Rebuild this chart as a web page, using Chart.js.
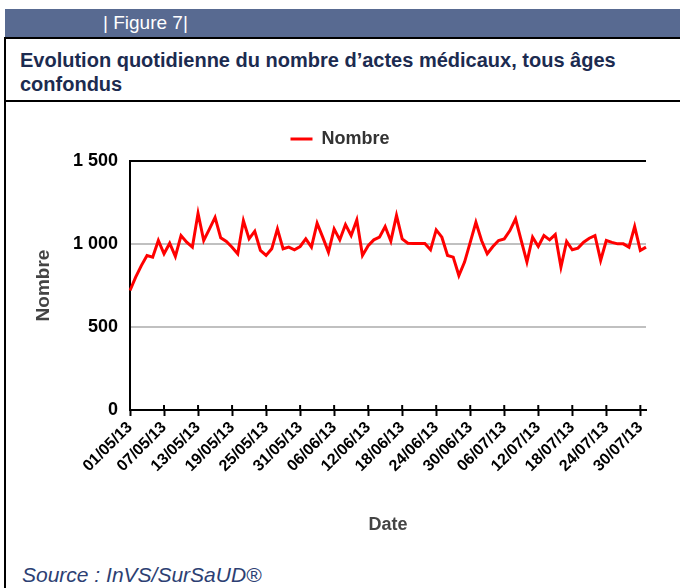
<!DOCTYPE html>
<html>
<head>
<meta charset="utf-8">
<script src="https://cdn.jsdelivr.net/npm/chart.js@4.4.1/dist/chart.umd.min.js"></script>
<style>
    body { margin: 0; width: 680px; height: 588px; background: #fff; position: relative; overflow: hidden; font-family: "Liberation Sans", Arial, sans-serif; }
    .bar { position: absolute; left: 5px; top: 9px; width: 675px; height: 28px; background: #586a91; }
    .bar span { position: absolute; left: 98px; top: 1px; line-height: 26px; color: #fff; font-size: 19px; }
    .box { position: absolute; left: 4px; top: 37px; width: 700px; height: 600px; border-left: 2px solid #000; border-top: 2px solid #000; }
    .title { position: absolute; left: 20px; top: 48px; font-size: 20px; line-height: 24px; font-weight: bold; color: #1c2b50; }
    .sep { position: absolute; left: 4px; top: 100px; width: 680px; height: 2px; background: #000; }
    .source { position: absolute; left: 22px; top: 563px; font-size: 21px; line-height: 24px; font-style: italic; color: #2d3f73; }
    #wrap { position: absolute; left: 0; top: 104px; width: 680px; height: 456px; }
</style>
</head>
<body>
<div class="bar"><span>| Figure 7|</span></div>
<div class="box"></div>
<div class="title">Evolution quotidienne du nombre d’actes médicaux, tous âges<br>confondus</div>
<div class="sep"></div>
<div id="wrap"><canvas id="myChart"></canvas></div>
<div class="source">Source : InVS/SurSaUD®</div>

<script>
// categories: every day from 01/05/13 to 31/07/13
let months = [["05", 31], ["06", 30], ["07", 31]];
let dates = [];
months.forEach(([mm, n]) => {
    for (let d = 1; d <= n; d++) dates.push(String(d).padStart(2, "0") + "/" + mm + "/13");
});

let nombre = [
    720, 800, 870, 931, 921, 1021, 941, 1005, 925, 1051,
    1011, 981, 1185, 1021, 1090, 1160, 1037, 1015, 980, 941,
    1141, 1031, 1077, 961, 931, 971, 1091, 971, 981, 965,
    985, 1031, 981, 1125, 1040, 951, 1091, 1025, 1117, 1051,
    1145, 931, 990, 1025, 1041, 1105, 1017, 1172, 1031, 1005,
    1003, 1003, 1003, 965, 1085, 1041, 931, 921, 810, 891,
    1010, 1131, 1021, 941, 985, 1021, 1031, 1081, 1152, 1020,
    891, 1041, 985, 1051, 1025, 1057, 861, 1015, 965, 975,
    1011, 1035, 1051, 901, 1021, 1010, 1001, 1001, 981, 1105,
    961, 981
];

let yTicks = [0, 500, 1000, 1500];
let labelEvery = 6;

function frNumber(v) {
    if (v < 1000) return String(v);
    return Math.floor(v / 1000) + " " + String(v % 1000).padStart(3, "0");
}

// make the legend block a fixed height
let legendHeight = {
    id: "legendHeight",
    beforeInit(chart) {
        let fit = chart.legend.fit;
        chart.legend.fit = function () {
            fit.call(this);
            this.height = 57;
        };
    }
};

// tick marks crossing the x axis (inner half)
let innerTicks = {
    id: "innerTicks",
    afterDraw(chart) {
        let x = chart.scales.x;
        let ctx = chart.ctx;
        let y0 = chart.chartArea.bottom;
        ctx.save();
        ctx.strokeStyle = "#000";
        ctx.lineWidth = 2;
        x.ticks.forEach((t, i) => {
            let px = x.getPixelForTick(i);
            ctx.beginPath();
            ctx.moveTo(px, y0);
            ctx.lineTo(px, y0 - 5);
            ctx.stroke();
        });
        ctx.restore();
    }
};

let ctx = document.getElementById("myChart").getContext("2d");
let myChart = new Chart(ctx, {
    type: "line",
    data: {
        labels: dates,
        datasets: [{
            label: "Nombre",
            data: nombre,
            borderColor: "#ff0000",
            backgroundColor: "#ff0000",
            borderWidth: 3,
            pointRadius: 0,
            tension: 0
        }]
    },
    options: {
        responsive: true,
        maintainAspectRatio: false,
        animation: false,
        layout: { padding: 0 },
        plugins: {
            legend: {
                position: "top",
                labels: {
                    usePointStyle: true,
                    pointStyle: "line",
                    pointStyleWidth: 22,
                    boxWidth: 22,
                    padding: 26,
                    color: "#333",
                    font: { family: "Liberation Sans", size: 18, weight: "bold" }
                }
            },
            tooltip: { enabled: false }
        },
        scales: {
            x: {
                offset: false,
                afterBuildTicks: (scale) => {
                    scale.ticks = scale.ticks.filter((t) => t.value % labelEvery === 0);
                },
                afterFit: (scale) => {
                    scale.height = 150;
                    scale.paddingRight = 34;
                },
                grid: {
                    drawOnChartArea: false,
                    drawTicks: true,
                    tickLength: 6,
                    tickColor: "#000",
                    tickWidth: 2
                },
                border: { color: "#000", width: 2 },
                ticks: {
                    autoSkip: false,
                    minRotation: 45,
                    maxRotation: 45,
                    padding: 2,
                    color: "#000",
                    font: { family: "Liberation Sans", size: 16, weight: "bold" }
                },
                title: {
                    display: true,
                    text: "Date",
                    color: "#444",
                    padding: { top: 0, bottom: 24 },
                    font: { family: "Liberation Sans", size: 18, weight: "bold" }
                }
            },
            y: {
                min: 0,
                max: 1500,
                afterBuildTicks: (scale) => {
                    scale.ticks = yTicks.map((v) => ({ value: v }));
                },
                afterFit: (scale) => {
                    scale.width = 130;
                },
                grid: {
                    drawTicks: false,
                    lineWidth: 2,
                    color: (c) => (c.tick && (c.tick.value === 1500 || c.tick.value === 0)) ? "#000" : "#c0c0c0"
                },
                border: { color: "#000", width: 2 },
                ticks: {
                    padding: 12,
                    color: "#000",
                    font: { family: "Liberation Sans", size: 18, weight: "bold" },
                    callback: (v) => frNumber(v)
                },
                title: {
                    display: true,
                    text: "Nombre",
                    color: "#444",
                    padding: { top: 32, bottom: 0 },
                    font: { family: "Liberation Sans", size: 19, weight: "bold" }
                }
            }
        }
    },
    plugins: [legendHeight, innerTicks]
});
</script>
</body>
</html>
